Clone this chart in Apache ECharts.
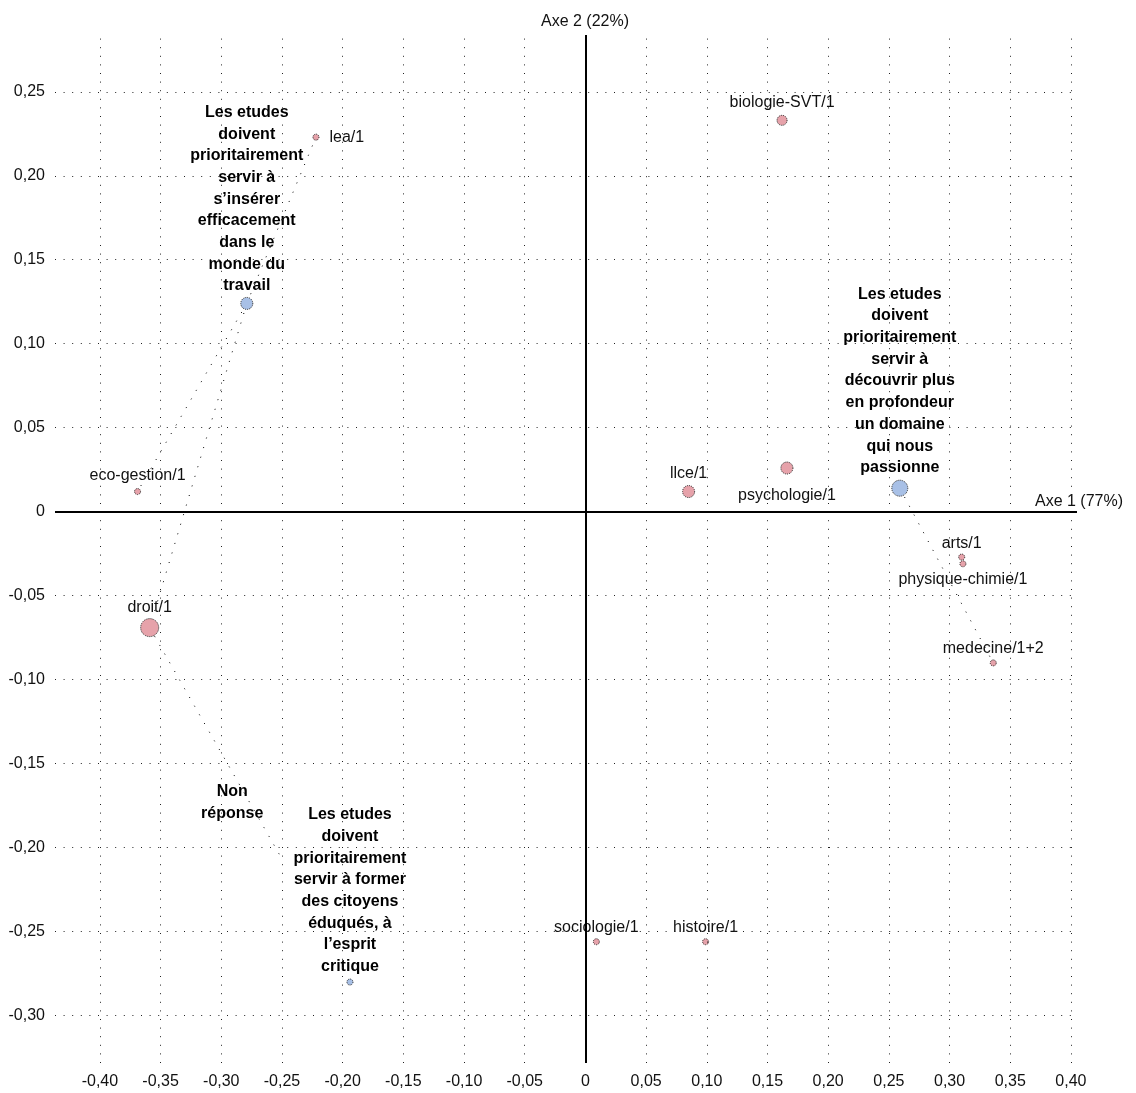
<!DOCTYPE html>
<html>
<head>
<meta charset="utf-8">
<script src="https://cdn.jsdelivr.net/npm/echarts@6/dist/echarts.min.js"></script>
<style>
html, body { margin: 0; padding: 0; background: #fff; }
#main { width: 1136px; height: 1093px; }
</style>
</head>
<body>
<div id="main"></div>
<script>
// ticks of both axes
var xTicks = [-0.40, -0.35, -0.30, -0.25, -0.20, -0.15, -0.10, -0.05, 0, 0.05, 0.10, 0.15, 0.20, 0.25, 0.30, 0.35, 0.40];
var yTicks = [-0.30, -0.25, -0.20, -0.15, -0.10, -0.05, 0, 0.05, 0.10, 0.15, 0.20, 0.25];

// column points (disciplines)
var colNames = ['lea/1', 'biologie-SVT/1', 'eco-gestion/1', 'droit/1', 'llce/1', 'psychologie/1', 'arts/1', 'physique-chimie/1', 'medecine/1+2', 'sociologie/1', 'histoire/1'];
var colX = [-0.222, 0.162, -0.369, -0.359, 0.085, 0.166, 0.310, 0.311, 0.336, 0.009, 0.099];
var colY = [0.223, 0.233, 0.012, -0.069, 0.012, 0.026, -0.027, -0.031, -0.090, -0.256, -0.256];

// row points (opinions)
var rowKeys = ['travail', 'passionne', 'critique', 'nonrep'];
var rowLabels = [
	'Les etudes\ndoivent\nprioritairement\nservir à\ns\u2019insérer\nefficacement\ndans le\nmonde du\ntravail',
	'Les etudes\ndoivent\nprioritairement\nservir à\ndécouvrir plus\nen profondeur\nun domaine\nqui nous\npassionne',
	'Les etudes\ndoivent\nprioritairement\nservir à former\ndes citoyens\néduqués, à\nl\u2019esprit\ncritique',
	'Non\nréponse'
];
var rowX = [-0.279, 0.259, -0.194, -0.249];
var rowY = [0.124, 0.014, -0.280, -0.208];

// dotted links between points
var links = [
	['travail', 'lea/1'],
	['travail', 'eco-gestion/1'],
	['travail', 'droit/1'],
	['droit/1', 'nonrep'],
	['passionne', 'medecine/1+2']
];

// marker / label styles
var colStyle = {
	'lea/1': { size: 6, pos: 'right', dist: 10 },
	'biologie-SVT/1': { size: 10, pos: 'top', dist: 4 },
	'eco-gestion/1': { size: 6, pos: 'top', dist: 4 },
	'droit/1': { size: 18, pos: 'top', dist: 3 },
	'llce/1': { size: 12, pos: 'top', dist: 3 },
	'psychologie/1': { size: 12, pos: 'bottom', dist: 13 },
	'arts/1': { size: 6, pos: 'top', dist: 2 },
	'physique-chimie/1': { size: 6, pos: 'bottom', dist: 4 },
	'medecine/1+2': { size: 6, pos: 'top', dist: 3 },
	'sociologie/1': { size: 6, pos: 'top', dist: 3 },
	'histoire/1': { size: 6, pos: 'top', dist: 3 }
};
var rowStyle = {
	travail: { size: 12, dist: 0 },
	passionne: { size: 16, dist: 1 },
	critique: { size: 6, dist: 1 },
	nonrep: { size: 0, dist: 0, offset: [-51, -37] }
};

var font = 'Liberation Sans, Arial, sans-serif';
var txtColor = '#111';

function fmt(v) {
	if (Math.abs(v) < 1e-9) return '0';
	return v.toFixed(2).replace('.', ',');
}

function coordOf(key) {
	var i = colNames.indexOf(key);
	if (i >= 0) return [colX[i], colY[i]];
	i = rowKeys.indexOf(key);
	return [rowX[i], rowY[i]];
}

var colData = colNames.map(function(n, i) {
	var s = colStyle[n];
	return {
		name: n,
		value: [colX[i], colY[i]],
		symbolSize: s.size,
		label: { position: s.pos, distance: s.dist }
	};
});

var rowData = rowKeys.map(function(k, i) {
	var s = rowStyle[k];
	var d = {
		name: rowLabels[i],
		value: [rowX[i], rowY[i]],
		symbolSize: s.size,
		label: { position: 'top', distance: s.dist }
	};
	if (s.offset) d.label.offset = s.offset;
	return d;
});

var linkData = links.map(function(l) {
	return { coords: [coordOf(l[0]), coordOf(l[1])] };
});

// grid lines and axes as markLines
var gridLine = { color: '#222', width: 1, type: [1, 7.6], opacity: 1 };
var markData = [];
xTicks.forEach(function(v) {
	markData.push({ xAxis: v, lineStyle: gridLine });
});
yTicks.forEach(function(v) {
	markData.push({ yAxis: v, lineStyle: gridLine });
});
markData.push({ xAxis: 0, lineStyle: { color: '#000', width: 2, type: 'solid', opacity: 1 } });
markData.push({ yAxis: 0, lineStyle: { color: '#000', width: 2, type: 'solid', opacity: 1 } });

var myChart = echarts.init(document.getElementById('main'));

var option = {
	animation: false,
	backgroundColor: '#fff',
	textStyle: { fontFamily: font },
	grid: { left: 55, right: 59, top: 35, bottom: 30, containLabel: false },
	xAxis: {
		type: 'value',
		min: -0.437,
		max: 0.405,
		axisLine: { show: false },
		axisTick: { show: false },
		splitLine: { show: false },
		axisLabel: {
			customValues: xTicks,
			formatter: fmt,
			margin: 11,
			fontSize: 16,
			color: txtColor,
			fontFamily: font
		}
	},
	yAxis: {
		type: 'value',
		min: -0.3282,
		max: 0.2838,
		axisLine: { show: false },
		axisTick: { show: false },
		splitLine: { show: false },
		axisLabel: {
			customValues: yTicks,
			formatter: fmt,
			margin: 10,
			fontSize: 16,
			color: txtColor,
			fontFamily: font
		}
	},
	graphic: [
		{ type: 'text', x: 585, y: 22, style: { text: 'Axe 2 (22%)', fontSize: 16, fontFamily: font, fill: txtColor, align: 'center', verticalAlign: 'middle' } },
		{ type: 'text', x: 1079, y: 502, style: { text: 'Axe 1 (77%)', fontSize: 16, fontFamily: font, fill: txtColor, align: 'center', verticalAlign: 'middle' } }
	],
	series: [
		{
			type: 'scatter',
			data: [],
			silent: true,
			z: 1,
			markLine: {
				silent: true,
				symbol: 'none',
				label: { show: false },
				animation: false,
				data: markData
			}
		},
		{
			type: 'lines',
			coordinateSystem: 'cartesian2d',
			silent: true,
			z: 2,
			lineStyle: { color: '#000', width: 1, type: [1, 9], opacity: 1 },
			data: linkData
		},
		{
			type: 'scatter',
			z: 3,
			itemStyle: { color: '#e6a2aa', borderColor: '#222', borderWidth: 1, borderType: 'dotted', opacity: 1 },
			label: {
				show: true,
				formatter: '{b}',
				fontSize: 16,
				color: txtColor,
				textBorderWidth: 0,
				opacity: 1,
				fontFamily: font
			},
			data: colData
		},
		{
			type: 'scatter',
			z: 3,
			itemStyle: { color: '#a8c0e6', borderColor: '#222', borderWidth: 1, borderType: 'dotted', opacity: 1 },
			label: {
				show: true,
				formatter: '{b}',
				fontSize: 16,
				fontWeight: 'bold',
				lineHeight: 21.7,
				align: 'center',
				color: '#000',
				textBorderWidth: 0,
				opacity: 1,
				fontFamily: font
			},
			data: rowData
		}
	]
};

myChart.setOption(option);
</script>
</body>
</html>
